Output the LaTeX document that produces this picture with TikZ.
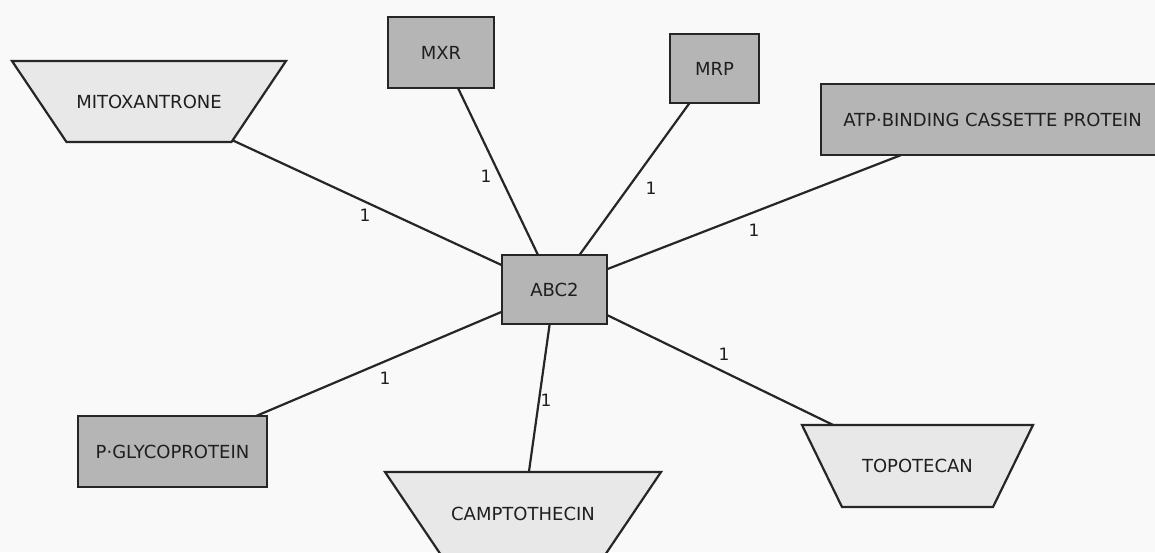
\documentclass[tikz,border=0pt]{standalone}
\usepackage{fontspec}
\setmainfont{DejaVu Sans}
\definecolor{bgc}{HTML}{F9F9F9}
\definecolor{rectfill}{HTML}{B5B5B5}
\definecolor{trapfill}{HTML}{E8E8E8}
\definecolor{linec}{HTML}{262626}
\tikzset{
  txt/.style={outer sep=0pt, inner sep=0pt, text=black!88, font=\fontsize{18}{20}\selectfont},
  protbox/.style={txt, draw=linec, line width=2.2pt, rectangle, fill=rectfill},
  drugshape/.style={draw=linec, line width=2.2pt, fill=trapfill, line join=miter},
  edge/.style={draw=linec, line width=2.2pt},
  lbl/.style={font=\fontsize{17}{20}\selectfont, text=black!88, inner sep=0pt}
}
\begin{document}
\begin{tikzpicture}[x=1pt,y=-1pt]
\fill[bgc] (0,0) rectangle (1155,552);
\useasboundingbox (0,0) rectangle (1155,552);
% trapezoid shapes
\draw[drugshape] (12,61) -- (286,61) -- (231.5,142) -- (66.5,142) -- cycle;
\draw[drugshape] (385,472) -- (661,472) -- (604.3,556) -- (441.7,556) -- cycle;
\draw[drugshape] (802,425) -- (1033,425) -- (993,507) -- (842,507) -- cycle;
% nodes
\node[protbox, minimum width=105pt, minimum height=69pt] (abc) at (554.5,289.5) {ABC2};
\node[protbox, minimum width=106pt, minimum height=71pt] (mxr) at (441,52.5) {MXR};
\node[protbox, minimum width=89pt, minimum height=69pt] (mrp) at (714.5,68.5) {MRP};
\node[protbox, minimum width=343pt, minimum height=71pt] (atp) at (992.5,119.5) {ATP·BINDING CASSETTE PROTEIN};
\node[protbox, minimum width=189pt, minimum height=71pt] (pgly) at (172.5,451.5) {P·GLYCOPROTEIN};
\node[txt] (mito) at (149,101.5) {MITOXANTRONE};
\node[txt] (campto) at (523,514) {CAMPTOTHECIN};
\node[txt] (topo) at (917.5,466) {TOPOTECAN};
% connection points on the trapezoid borders
\coordinate (mitoE) at (232.6,140.3);
\coordinate (camptoE) at (528.9,472);
\coordinate (topoE) at (833.2,425);
% connectors
\draw[edge] (mitoE) -- (abc);
\draw[edge] (mxr) -- (abc);
\draw[edge] (mrp) -- (abc);
\draw[edge] (atp) -- (abc);
\draw[edge] (abc) -- (pgly);
\draw[edge] (abc) -- (camptoE);
\draw[edge] (abc) -- (topoE);
% labels
\node[lbl] (l1) at (365,215) {1};
\node[lbl] (l2) at (486,176) {1};
\node[lbl] (l3) at (651,188) {1};
\node[lbl] (l4) at (754,230) {1};
\node[lbl] (l5) at (385,378) {1};
\node[lbl] (l6) at (546,400) {1};
\node[lbl] (l7) at (724,354) {1};
\end{tikzpicture}
\end{document}
